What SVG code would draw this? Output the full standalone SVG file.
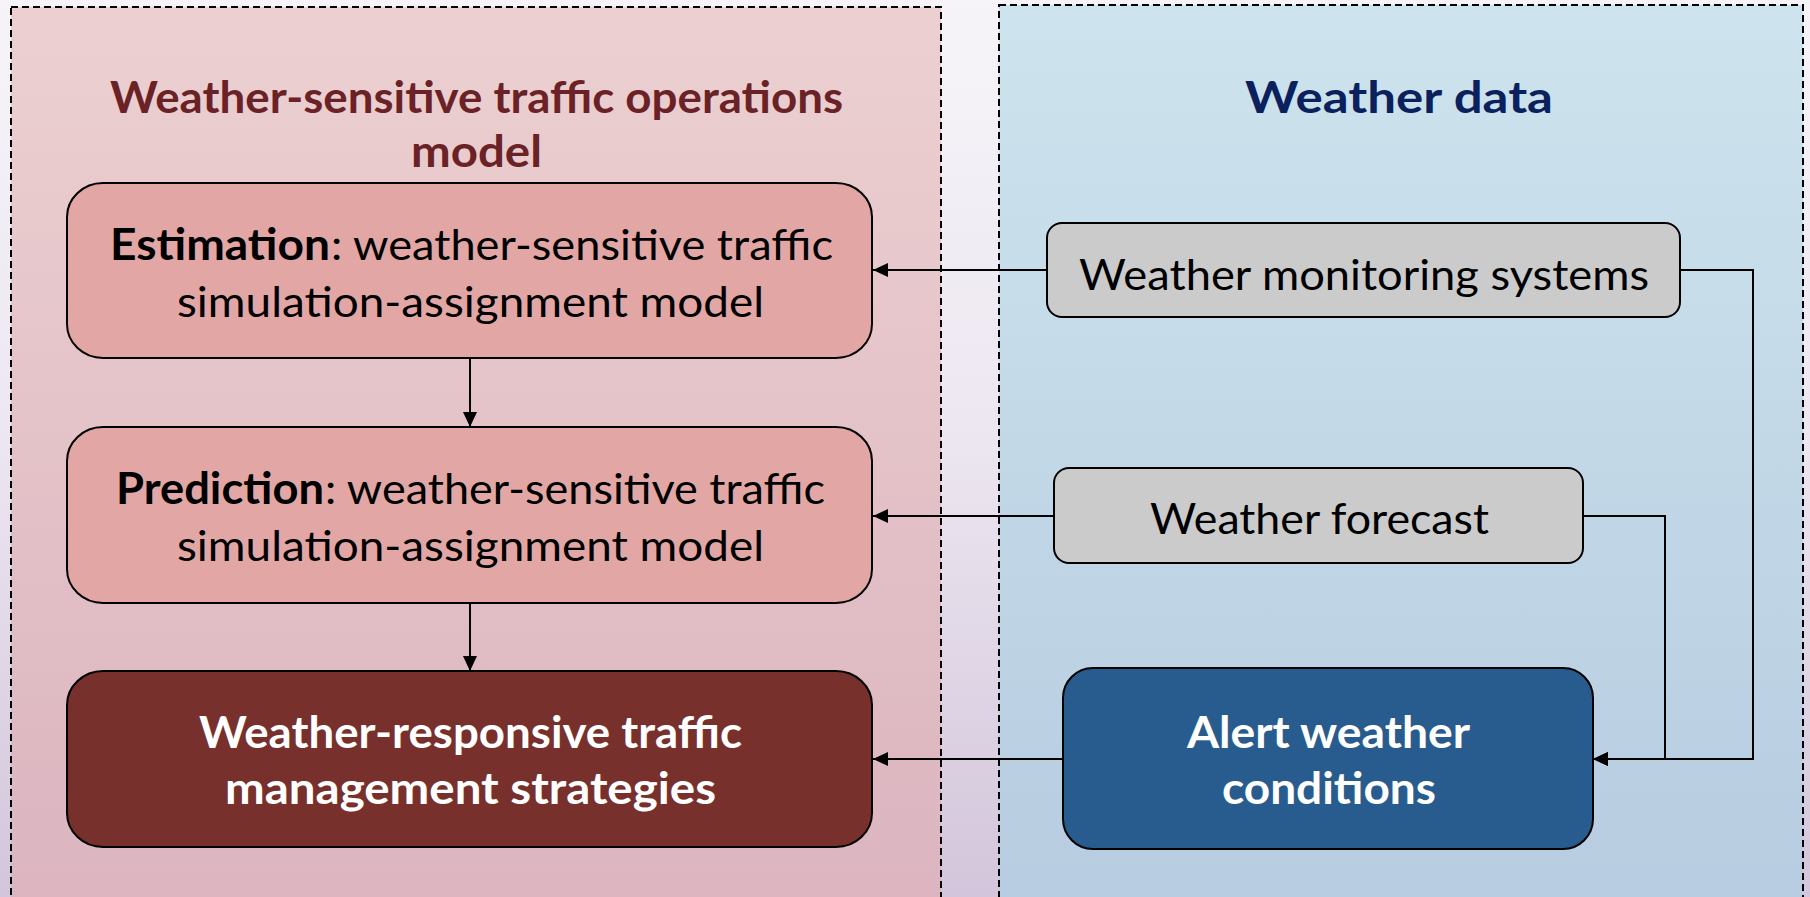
<svg xmlns="http://www.w3.org/2000/svg" width="1810" height="897" viewBox="0 0 1810 897">
<defs>
<linearGradient id="bg" x1="0" y1="0" x2="0" y2="1">
<stop offset="0" stop-color="#F6F4F9"/><stop offset="0.5" stop-color="#ECE6F0"/><stop offset="1" stop-color="#D3C5DB"/>
</linearGradient>
<linearGradient id="lp" x1="0" y1="0" x2="0" y2="1">
<stop offset="0" stop-color="#ECD0D1"/><stop offset="1" stop-color="#DBB4BF"/>
</linearGradient>
<linearGradient id="rp" x1="0" y1="0" x2="0" y2="1">
<stop offset="0" stop-color="#CDE4EE"/><stop offset="1" stop-color="#B7CCE0"/>
</linearGradient>
<marker id="arr" markerUnits="userSpaceOnUse" markerWidth="16" markerHeight="14" refX="15" refY="7" orient="auto">
<path d="M0,0 L15,7 L0,14 z" fill="#000"/>
</marker>
<style>
.panel{stroke:#000;stroke-width:2;stroke-dasharray:7 4}
.box{stroke:#000;stroke-width:2}
.t{font-family:Lato,"Open Sans","Liberation Sans",sans-serif;font-size:43px;fill:#000}
.b{font-weight:bold}
.w{fill:#fff;font-weight:bold}
.conn{fill:none;stroke:#000;stroke-width:2;marker-end:url(#arr)}
</style>
</defs>
<rect x="0" y="0" width="1810" height="897" fill="url(#bg)"/>
<g id="panel-left">
<rect class="panel" x="11" y="7" width="930" height="900" fill="url(#lp)"/>
<text class="t b" fill="#6B2226" style="fill:#6B2226"><tspan x="110" y="113" textLength="733" lengthAdjust="spacingAndGlyphs">Weather-sensitive traffic operations</tspan><tspan x="411" y="167" textLength="131" lengthAdjust="spacingAndGlyphs">model</tspan></text>
</g>
<g id="panel-right">
<rect class="panel" x="999" y="5" width="804" height="902" fill="url(#rp)"/>
<text class="t b" style="fill:#0B215E" x="1245" y="113" textLength="308" lengthAdjust="spacingAndGlyphs">Weather data</text>
</g>
<g id="connectors">
<path class="conn" d="M1047,270 H873"/>
<path class="conn" d="M1054,516 H873"/>
<path class="conn" d="M1063,759 H873"/>
<path class="conn" d="M470,358 V427"/>
<path class="conn" d="M470,603 V671"/>
<path class="conn" d="M1680,270 H1753 V759 H1593"/>
<path class="conn" d="M1583,516 H1665 V759 H1593"/>
</g>
<g id="estimation">
<rect class="box" x="67" y="183" width="805" height="175" rx="36" ry="34" fill="#E2A7A5"/>
<text class="t"><tspan class="b" x="110" y="260" textLength="220" lengthAdjust="spacingAndGlyphs">Estimation</tspan><tspan x="331" y="260" textLength="502" lengthAdjust="spacingAndGlyphs">: weather-sensitive traffic</tspan><tspan x="177" y="317" textLength="587" lengthAdjust="spacingAndGlyphs">simulation-assignment model</tspan></text>
</g>
<g id="prediction">
<rect class="box" x="67" y="427" width="805" height="176" rx="36" ry="34" fill="#E2A7A5"/>
<text class="t"><tspan class="b" x="116" y="504" textLength="208" lengthAdjust="spacingAndGlyphs">Prediction</tspan><tspan x="325" y="504" textLength="500" lengthAdjust="spacingAndGlyphs">: weather-sensitive traffic</tspan><tspan x="177" y="561" textLength="587" lengthAdjust="spacingAndGlyphs">simulation-assignment model</tspan></text>
</g>
<g id="strategies">
<rect class="box" x="67" y="671" width="805" height="176" rx="36" ry="34" fill="#78302D"/>
<text class="t w"><tspan x="199" y="748" textLength="543" lengthAdjust="spacingAndGlyphs">Weather-responsive traffic</tspan><tspan x="225" y="804" textLength="491" lengthAdjust="spacingAndGlyphs">management strategies</tspan></text>
</g>
<g id="monitoring">
<rect class="box" x="1047" y="223" width="633" height="94" rx="15" ry="15" fill="#CBCBCB"/>
<text class="t" x="1079" y="290" textLength="570" lengthAdjust="spacingAndGlyphs">Weather monitoring systems</text>
</g>
<g id="forecast">
<rect class="box" x="1054" y="468" width="529" height="95" rx="15" ry="15" fill="#CBCBCB"/>
<text class="t" x="1150" y="534" textLength="339" lengthAdjust="spacingAndGlyphs">Weather forecast</text>
</g>
<g id="alert">
<rect class="box" x="1063" y="668" width="530" height="181" rx="30" ry="30" fill="#285C8E"/>
<text class="t w"><tspan x="1187" y="748" textLength="283" lengthAdjust="spacingAndGlyphs">Alert weather</tspan><tspan x="1222" y="804" textLength="214" lengthAdjust="spacingAndGlyphs">conditions</tspan></text>
</g>
</svg>
